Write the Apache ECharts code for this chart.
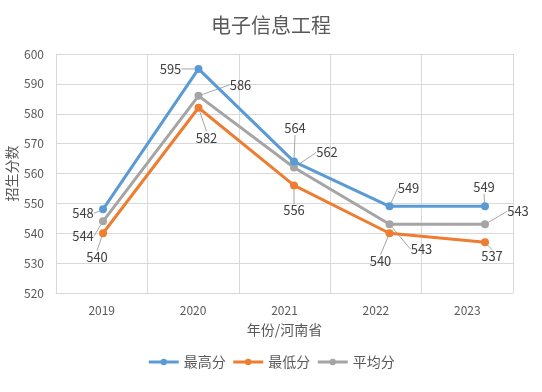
<!DOCTYPE html>
<html><head><meta charset="utf-8">
<script src="https://cdn.jsdelivr.net/npm/echarts@6/dist/echarts.min.js"></script>
<style>html,body{margin:0;padding:0;background:#fff}#c{width:542px;height:392px}</style>
</head><body><div id="c"></div>
<script>
const categories = ['2019','2020','2021','2022','2023'];
const maxScores = [548, 595, 564, 549, 549];
const minScores = [540, 582, 556, 540, 537];
const avgScores = [544, 586, 562, 543, 543];
const seriesNames = ['最高分','最低分','平均分'];
// label offsets (dx, dy) relative to each point
const labelOffsets = [
  [[-20,4],[-28,0],[1,-33],[19,-18],[-1,-19]],
  [[-6,24],[8,30],[0,25],[-9,28],[7,14]],
  [[-20,15],[42,-11],[33,-15],[32,25],[33,-13]]
];
const colors = ['#5B9BD5','#ED7D31','#A5A5A5'];
const font = '"Microsoft YaHei","Noto Sans CJK SC",sans-serif';
const chart = echarts.init(document.getElementById('c'));
function mk(i, data){
  return {
    name: seriesNames[i], type:'line', data: data,
    xAxisIndex:1, yAxisIndex:1,
    symbol:'circle', symbolSize:8,
    lineStyle:{width:3,color:colors[i]},
    itemStyle:{color:colors[i]},
    label:{show:true,position:'inside',color:'#404040',fontSize:13,fontFamily:font},
    labelLine:{show:true,lineStyle:{color:'#A6A6A6',width:1}},
    labelLayout:function(p){const o=labelOffsets[i][p.dataIndex];return {dx:o[0],dy:o[1]};},
    z: 3-i
  };
}
chart.setOption({
  animation:false,
  color:colors,
  title:{text:'电子信息工程',left:'center',top:10,textStyle:{color:'#595959',fontSize:20,fontWeight:'normal',fontFamily:font}},
  grid:[
    {left:56,right:29,top:54,bottom:99,containLabel:false,outerBoundsMode:'none'},
    {left:55.25,right:9.25,top:54,bottom:99,containLabel:false,outerBoundsMode:'none'}
  ],
  legend:{bottom:18,left:'center',itemWidth:30,itemHeight:8,itemGap:6,
    lineStyle:{width:3},
    textStyle:{color:'#595959',fontSize:14,fontFamily:font},
    data:seriesNames},
  xAxis:[{type:'category',data:categories,boundaryGap:true,gridIndex:0,
    name:'年份/河南省',nameLocation:'middle',nameGap:30,nameMoveOverlap:false,
    nameTextStyle:{color:'#595959',fontSize:14,fontFamily:font},
    axisLine:{lineStyle:{color:'#D9D9D9'}},axisTick:{show:false},
    axisLabel:{color:'#595959',fontSize:12,margin:11,fontFamily:font},
    splitLine:{show:true,lineStyle:{color:'#D9D9D9'}}},
    {type:'category',data:categories,boundaryGap:true,gridIndex:1,show:false}],
  yAxis:[{type:'value',min:520,max:600,interval:10,gridIndex:0,
    name:'招生分数',nameLocation:'middle',nameGap:37,nameRotate:90,nameMoveOverlap:false,
    nameTextStyle:{color:'#595959',fontSize:14,fontFamily:font},
    axisLine:{show:false},axisTick:{show:false},
    axisLabel:{color:'#595959',fontSize:12,margin:12,fontFamily:font},
    splitLine:{lineStyle:{color:'#D9D9D9'}}},
    {type:'value',min:520,max:600,interval:10,gridIndex:1,show:false,splitLine:{show:false}}],
  series:[mk(0,maxScores),mk(1,minScores),mk(2,avgScores)]
});
</script></body></html>
